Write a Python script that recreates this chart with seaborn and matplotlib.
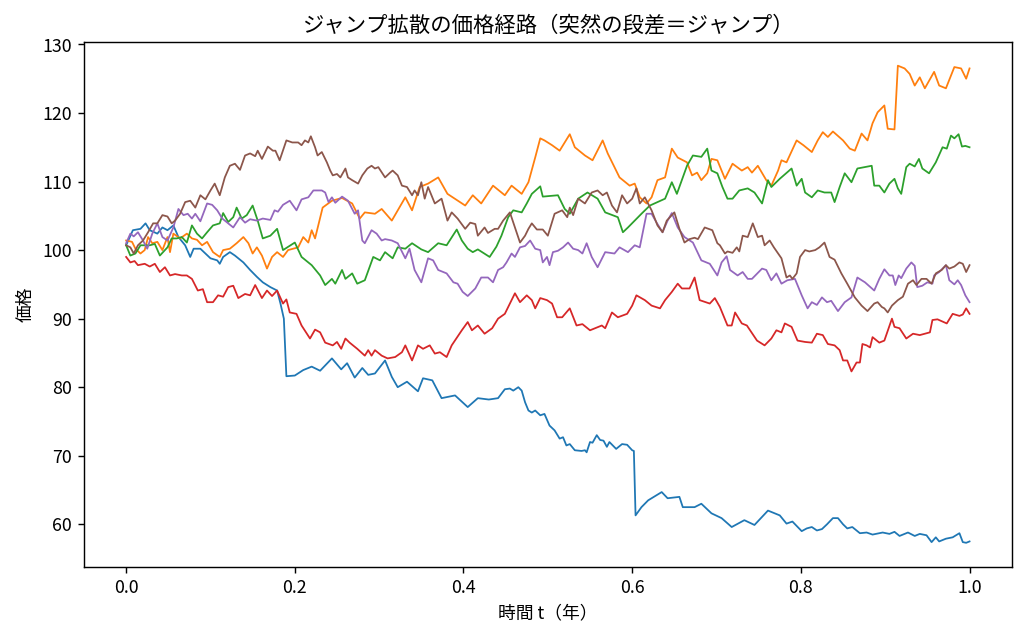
import pandas as pd
import matplotlib
matplotlib.use('Agg')
import matplotlib.pyplot as plt
import seaborn as sns

plt.rcParams['font.family'] = ['Noto Sans CJK JP', 'DejaVu Sans']

# (t, price), one list per path
path_1 = [(0.0, 100.7), (0.008, 102.9), (0.017, 103.1), (0.023, 103.9), (0.028, 102.9), (0.037, 102.4),
          (0.043, 103.3), (0.049, 102.9), (0.056, 103.6), (0.062, 101.9), (0.07, 100.7), (0.076, 99.0),
          (0.08, 100.2), (0.088, 100.2), (0.094, 99.5), (0.1, 98.8), (0.108, 98.5), (0.111, 98.0),
          (0.115, 99.0), (0.123, 99.7), (0.129, 99.2), (0.139, 98.2), (0.147, 97.1), (0.155, 96.1),
          (0.162, 95.3), (0.171, 94.6), (0.179, 94.1), (0.183, 92.2), (0.187, 90.0), (0.19, 81.6),
          (0.2, 81.7), (0.21, 82.5), (0.22, 83.0), (0.23, 82.4), (0.244, 84.2), (0.255, 82.6),
          (0.262, 83.5), (0.271, 81.4), (0.28, 82.8), (0.287, 81.8), (0.295, 82.0), (0.307, 83.9),
          (0.315, 81.5), (0.322, 80.0), (0.333, 80.8), (0.346, 79.4), (0.352, 81.3), (0.363, 81.0),
          (0.374, 78.4), (0.39, 78.8), (0.405, 77.1), (0.417, 78.4), (0.43, 78.2), (0.441, 78.4),
          (0.449, 79.7), (0.455, 79.8), (0.459, 79.5), (0.465, 80.0), (0.469, 79.5), (0.473, 77.8),
          (0.477, 76.6), (0.481, 76.3), (0.485, 76.6), (0.491, 75.9), (0.496, 76.1), (0.502, 74.4),
          (0.508, 73.7), (0.514, 72.5), (0.518, 72.7), (0.522, 71.5), (0.526, 71.7), (0.532, 70.8),
          (0.54, 70.7), (0.544, 70.8), (0.546, 70.5), (0.55, 72.0), (0.553, 71.9), (0.558, 73.0),
          (0.562, 72.3), (0.566, 72.2), (0.57, 71.3), (0.573, 72.0), (0.581, 71.0), (0.588, 71.7),
          (0.594, 71.6), (0.6, 70.8), (0.602, 70.7), (0.604, 61.3), (0.611, 62.5), (0.619, 63.5),
          (0.635, 64.7), (0.642, 63.8), (0.656, 64.0), (0.66, 62.5), (0.674, 62.5), (0.682, 63.0),
          (0.694, 61.6), (0.706, 60.9), (0.718, 59.6), (0.733, 60.6), (0.745, 59.9), (0.761, 62.0),
          (0.775, 61.3), (0.783, 60.1), (0.79, 60.4), (0.801, 59.0), (0.807, 59.4), (0.813, 59.6),
          (0.819, 59.1), (0.825, 59.3), (0.831, 60.0), (0.838, 60.9), (0.844, 60.9), (0.85, 60.0),
          (0.855, 59.4), (0.861, 59.6), (0.87, 58.7), (0.878, 58.8), (0.885, 58.5), (0.897, 58.8),
          (0.905, 58.6), (0.911, 58.9), (0.917, 58.3), (0.927, 58.8), (0.935, 58.3), (0.941, 58.6),
          (0.949, 58.4), (0.955, 57.4), (0.96, 58.1), (0.964, 57.5), (0.972, 57.9), (0.98, 58.1),
          (0.988, 58.7), (0.992, 57.4), (0.996, 57.3), (1.0, 57.5)]

path_2 = [(0.0, 101.4), (0.007, 101.2), (0.011, 100.2), (0.017, 99.5), (0.022, 100.0), (0.026, 101.9),
          (0.031, 101.0), (0.037, 101.2), (0.043, 100.0), (0.049, 101.9), (0.052, 99.7), (0.056, 102.4),
          (0.064, 101.7), (0.072, 102.4), (0.078, 101.7), (0.084, 101.5), (0.09, 100.7), (0.096, 101.2),
          (0.103, 99.7), (0.111, 99.0), (0.115, 100.0), (0.123, 100.2), (0.131, 101.0), (0.139, 101.9),
          (0.145, 101.0), (0.15, 99.5), (0.155, 100.4), (0.161, 99.2), (0.167, 97.3), (0.173, 99.0),
          (0.179, 99.7), (0.186, 99.0), (0.192, 100.0), (0.204, 100.4), (0.21, 101.9), (0.216, 101.1),
          (0.22, 102.9), (0.224, 101.7), (0.233, 106.2), (0.244, 107.2), (0.256, 107.6), (0.268, 106.8),
          (0.277, 104.6), (0.283, 105.5), (0.295, 105.3), (0.303, 106.0), (0.315, 104.3), (0.331, 107.7),
          (0.339, 105.8), (0.348, 109.2), (0.358, 109.7), (0.37, 110.6), (0.381, 108.2), (0.402, 106.5),
          (0.411, 108.0), (0.421, 106.8), (0.435, 109.4), (0.449, 108.0), (0.457, 109.4), (0.469, 108.2),
          (0.477, 109.9), (0.485, 113.5), (0.491, 116.3), (0.496, 116.0), (0.505, 115.3), (0.514, 114.5),
          (0.526, 116.9), (0.532, 115.0), (0.544, 113.8), (0.553, 113.1), (0.565, 116.0), (0.571, 114.1),
          (0.585, 110.6), (0.597, 109.4), (0.603, 109.7), (0.609, 107.7), (0.617, 106.8), (0.623, 107.7),
          (0.63, 110.2), (0.639, 110.6), (0.647, 114.8), (0.654, 113.5), (0.665, 112.8), (0.671, 110.9),
          (0.677, 111.3), (0.682, 110.2), (0.689, 111.2), (0.694, 113.3), (0.701, 113.1), (0.71, 110.4),
          (0.719, 112.6), (0.73, 111.6), (0.737, 112.1), (0.742, 111.3), (0.749, 112.3), (0.759, 110.2),
          (0.765, 109.4), (0.773, 111.6), (0.777, 113.1), (0.783, 112.8), (0.795, 116.0), (0.803, 115.3),
          (0.813, 114.3), (0.82, 116.0), (0.826, 117.2), (0.832, 116.5), (0.838, 117.3), (0.85, 116.0),
          (0.858, 114.8), (0.864, 114.5), (0.872, 117.0), (0.879, 116.0), (0.885, 118.5), (0.891, 120.1),
          (0.899, 121.1), (0.903, 117.7), (0.911, 117.6), (0.915, 126.9), (0.923, 126.5), (0.929, 125.7),
          (0.935, 124.0), (0.941, 125.2), (0.947, 123.6), (0.958, 126.0), (0.964, 124.0), (0.972, 123.6),
          (0.982, 126.7), (0.99, 126.5), (0.996, 125.0), (1.0, 126.5)]

path_3 = [(0.0, 100.7), (0.005, 99.2), (0.011, 99.5), (0.017, 100.7), (0.028, 100.7), (0.034, 100.9),
          (0.04, 99.2), (0.049, 100.4), (0.054, 101.7), (0.06, 101.7), (0.066, 101.9), (0.072, 101.1),
          (0.078, 103.6), (0.084, 102.4), (0.09, 101.7), (0.096, 102.6), (0.103, 103.6), (0.111, 103.9),
          (0.115, 105.4), (0.121, 104.1), (0.127, 104.8), (0.131, 106.2), (0.137, 104.6), (0.143, 105.1),
          (0.15, 106.5), (0.156, 104.3), (0.162, 101.7), (0.171, 102.1), (0.179, 103.1), (0.186, 100.0),
          (0.2, 101.1), (0.208, 99.0), (0.22, 97.8), (0.23, 96.3), (0.236, 94.9), (0.244, 95.8),
          (0.248, 95.1), (0.256, 97.1), (0.26, 95.8), (0.268, 96.6), (0.274, 95.1), (0.283, 95.6),
          (0.293, 99.0), (0.301, 98.5), (0.307, 99.7), (0.316, 98.8), (0.322, 100.4), (0.331, 100.2),
          (0.339, 101.0), (0.35, 100.1), (0.358, 99.7), (0.37, 101.0), (0.38, 100.7), (0.392, 103.0),
          (0.398, 101.4), (0.405, 100.2), (0.411, 99.7), (0.417, 100.1), (0.431, 99.0), (0.439, 100.5),
          (0.445, 102.1), (0.453, 104.8), (0.459, 105.8), (0.469, 105.5), (0.475, 106.8), (0.481, 108.2),
          (0.491, 109.3), (0.494, 107.8), (0.512, 108.0), (0.52, 106.0), (0.526, 105.3), (0.536, 107.5),
          (0.547, 108.4), (0.559, 107.5), (0.568, 105.5), (0.583, 104.8), (0.589, 102.6), (0.595, 103.3),
          (0.603, 104.3), (0.611, 105.3), (0.621, 106.5), (0.639, 107.5), (0.647, 109.9), (0.653, 108.2),
          (0.665, 112.3), (0.672, 113.8), (0.682, 113.6), (0.689, 114.8), (0.694, 111.6), (0.701, 111.2),
          (0.707, 109.2), (0.713, 107.5), (0.719, 107.5), (0.727, 108.7), (0.737, 109.0), (0.745, 108.4),
          (0.754, 106.8), (0.761, 110.2), (0.765, 109.2), (0.775, 110.4), (0.789, 111.9), (0.795, 109.4),
          (0.801, 110.4), (0.805, 108.4), (0.813, 107.7), (0.82, 108.7), (0.828, 108.4), (0.836, 108.4),
          (0.84, 107.0), (0.846, 109.2), (0.852, 111.2), (0.86, 109.9), (0.867, 111.9), (0.884, 112.3),
          (0.887, 109.4), (0.893, 109.4), (0.899, 108.4), (0.905, 109.7), (0.911, 110.4), (0.915, 109.0),
          (0.919, 108.2), (0.925, 112.1), (0.929, 112.6), (0.935, 112.2), (0.94, 113.3), (0.944, 111.9),
          (0.952, 111.2), (0.96, 112.8), (0.968, 115.0), (0.973, 114.8), (0.978, 116.7), (0.982, 116.3),
          (0.987, 116.9), (0.991, 115.1), (0.995, 115.2), (1.0, 115.0)]

path_4 = [(0.0, 99.0), (0.005, 98.2), (0.01, 98.4), (0.014, 97.8), (0.022, 98.0), (0.028, 97.6),
          (0.034, 98.0), (0.04, 96.8), (0.046, 97.5), (0.052, 96.3), (0.058, 96.5), (0.066, 96.3),
          (0.072, 96.3), (0.078, 95.8), (0.085, 94.1), (0.091, 94.3), (0.096, 92.4), (0.103, 92.4),
          (0.109, 93.4), (0.115, 93.2), (0.121, 94.6), (0.127, 94.8), (0.133, 93.0), (0.141, 93.6),
          (0.147, 93.4), (0.153, 94.9), (0.161, 93.0), (0.167, 94.1), (0.173, 93.3), (0.179, 94.1),
          (0.186, 92.2), (0.19, 92.8), (0.194, 90.9), (0.202, 90.7), (0.208, 89.0), (0.218, 87.1),
          (0.224, 88.4), (0.23, 88.0), (0.236, 86.5), (0.245, 86.1), (0.25, 86.6), (0.255, 85.6),
          (0.26, 87.1), (0.265, 86.5), (0.274, 85.6), (0.283, 84.6), (0.287, 85.4), (0.291, 84.6),
          (0.295, 85.4), (0.303, 84.6), (0.31, 84.2), (0.319, 84.4), (0.327, 85.1), (0.331, 86.1),
          (0.339, 83.9), (0.346, 86.1), (0.352, 85.6), (0.36, 86.1), (0.366, 84.9), (0.372, 85.1),
          (0.38, 84.4), (0.386, 86.1), (0.398, 88.3), (0.405, 89.5), (0.41, 88.3), (0.417, 89.0),
          (0.425, 87.8), (0.434, 88.6), (0.441, 90.0), (0.449, 90.7), (0.455, 92.2), (0.461, 93.7),
          (0.467, 92.4), (0.475, 93.4), (0.481, 92.7), (0.485, 91.5), (0.491, 93.0), (0.499, 92.7),
          (0.505, 92.2), (0.511, 90.2), (0.517, 90.2), (0.526, 91.5), (0.534, 89.0), (0.541, 89.2),
          (0.55, 88.3), (0.556, 88.6), (0.564, 89.0), (0.568, 88.6), (0.576, 90.9), (0.583, 90.2),
          (0.594, 90.7), (0.6, 91.9), (0.605, 93.4), (0.615, 92.7), (0.623, 91.9), (0.633, 91.5),
          (0.639, 92.7), (0.647, 93.9), (0.654, 95.1), (0.659, 94.4), (0.668, 94.4), (0.674, 96.0),
          (0.68, 92.7), (0.692, 92.2), (0.698, 93.0), (0.704, 91.7), (0.713, 89.0), (0.718, 89.0),
          (0.722, 90.9), (0.73, 89.3), (0.736, 89.0), (0.748, 86.8), (0.757, 86.1), (0.765, 87.1),
          (0.771, 88.3), (0.777, 88.0), (0.781, 89.3), (0.789, 88.8), (0.796, 86.8), (0.805, 86.6),
          (0.813, 86.5), (0.819, 87.8), (0.826, 87.6), (0.832, 86.3), (0.84, 86.1), (0.846, 85.4),
          (0.85, 83.9), (0.855, 83.9), (0.86, 82.3), (0.866, 83.6), (0.87, 83.6), (0.873, 86.3),
          (0.878, 86.1), (0.882, 85.8), (0.885, 87.3), (0.893, 86.5), (0.899, 86.8), (0.908, 90.0),
          (0.911, 88.8), (0.917, 88.6), (0.925, 87.1), (0.933, 87.8), (0.941, 87.6), (0.947, 87.8),
          (0.953, 88.0), (0.956, 89.8), (0.962, 89.9), (0.973, 89.3), (0.98, 90.7), (0.988, 90.4),
          (0.992, 90.6), (0.996, 91.5), (1.0, 90.7)]

path_5 = [(0.0, 101.0), (0.005, 102.4), (0.009, 102.0), (0.014, 102.6), (0.02, 101.4), (0.025, 100.2),
          (0.031, 102.4), (0.037, 103.9), (0.043, 101.9), (0.049, 101.4), (0.056, 103.3), (0.062, 106.0),
          (0.068, 105.1), (0.073, 105.3), (0.078, 104.6), (0.082, 105.3), (0.088, 104.2), (0.096, 106.8),
          (0.102, 106.6), (0.108, 105.8), (0.114, 104.6), (0.121, 103.9), (0.127, 103.3), (0.135, 104.8),
          (0.141, 104.0), (0.147, 104.5), (0.155, 104.3), (0.162, 104.6), (0.171, 104.4), (0.176, 105.8),
          (0.18, 105.6), (0.186, 106.6), (0.194, 107.2), (0.202, 105.8), (0.208, 107.4), (0.216, 107.7),
          (0.222, 108.7), (0.232, 108.7), (0.236, 108.4), (0.24, 107.0), (0.244, 107.7), (0.248, 106.9),
          (0.256, 107.8), (0.263, 107.2), (0.271, 105.3), (0.275, 105.8), (0.28, 101.4), (0.283, 101.0),
          (0.291, 102.9), (0.297, 102.4), (0.303, 101.4), (0.307, 101.6), (0.315, 101.4), (0.322, 101.0),
          (0.331, 98.8), (0.336, 100.2), (0.342, 97.1), (0.35, 95.3), (0.358, 98.8), (0.364, 98.5),
          (0.37, 97.1), (0.38, 96.6), (0.388, 95.3), (0.393, 95.1), (0.399, 93.9), (0.405, 93.3),
          (0.414, 94.4), (0.421, 96.0), (0.429, 96.0), (0.435, 95.3), (0.441, 97.1), (0.447, 97.5),
          (0.451, 98.2), (0.457, 99.5), (0.461, 99.0), (0.467, 100.4), (0.473, 100.6), (0.479, 101.4),
          (0.485, 100.2), (0.491, 100.0), (0.494, 98.2), (0.499, 99.0), (0.502, 97.8), (0.506, 99.7),
          (0.512, 99.9), (0.518, 100.4), (0.524, 101.1), (0.53, 100.2), (0.536, 100.0), (0.541, 99.5),
          (0.546, 101.0), (0.552, 99.0), (0.559, 97.5), (0.568, 99.7), (0.579, 99.5), (0.585, 100.4),
          (0.595, 99.7), (0.603, 100.7), (0.609, 100.4), (0.617, 105.3), (0.623, 105.3), (0.629, 104.0),
          (0.636, 102.6), (0.642, 104.3), (0.647, 105.4), (0.654, 103.3), (0.662, 101.9), (0.672, 101.1),
          (0.682, 98.5), (0.692, 98.0), (0.701, 96.3), (0.706, 98.2), (0.712, 99.1), (0.716, 97.1),
          (0.725, 96.3), (0.731, 96.8), (0.737, 95.8), (0.742, 95.8), (0.754, 97.3), (0.759, 97.1),
          (0.765, 95.6), (0.771, 96.6), (0.777, 95.1), (0.784, 95.6), (0.793, 95.8), (0.801, 93.4),
          (0.808, 91.5), (0.813, 92.4), (0.819, 92.0), (0.825, 93.1), (0.831, 92.4), (0.836, 92.6),
          (0.844, 91.1), (0.852, 92.4), (0.86, 93.1), (0.867, 96.0), (0.876, 95.3), (0.887, 94.1),
          (0.893, 95.8), (0.899, 97.2), (0.905, 96.3), (0.909, 96.3), (0.912, 94.9), (0.916, 96.3),
          (0.919, 95.9), (0.925, 97.3), (0.931, 98.2), (0.935, 97.7), (0.938, 94.6), (0.944, 94.8),
          (0.95, 95.3), (0.956, 95.1), (0.958, 96.3), (0.964, 96.8), (0.972, 97.8), (0.976, 95.6),
          (0.982, 95.0), (0.986, 95.6), (0.99, 94.9), (0.995, 93.4), (1.0, 92.4)]

path_6 = [(0.0, 100.7), (0.005, 100.4), (0.009, 99.5), (0.014, 100.7), (0.02, 101.4), (0.026, 102.6),
          (0.032, 103.9), (0.037, 103.9), (0.043, 105.1), (0.049, 104.9), (0.054, 103.9), (0.058, 104.3),
          (0.064, 105.3), (0.07, 107.0), (0.076, 107.2), (0.082, 106.2), (0.088, 108.0), (0.094, 107.4),
          (0.1, 108.7), (0.105, 109.7), (0.111, 108.0), (0.117, 110.6), (0.123, 112.3), (0.129, 112.6),
          (0.135, 111.7), (0.141, 113.8), (0.147, 114.1), (0.153, 113.7), (0.156, 114.5), (0.161, 113.3),
          (0.168, 115.1), (0.174, 114.5), (0.177, 114.5), (0.182, 113.1), (0.19, 116.0), (0.197, 115.7),
          (0.204, 115.7), (0.208, 115.3), (0.212, 116.0), (0.216, 115.7), (0.219, 116.6), (0.224, 115.0),
          (0.227, 113.8), (0.232, 114.3), (0.238, 112.8), (0.242, 111.6), (0.245, 110.9), (0.25, 111.1),
          (0.254, 110.6), (0.26, 111.9), (0.263, 110.6), (0.268, 110.2), (0.275, 109.7), (0.28, 110.9),
          (0.286, 111.9), (0.291, 112.3), (0.295, 111.9), (0.299, 112.1), (0.307, 110.6), (0.313, 111.3),
          (0.316, 111.6), (0.322, 110.9), (0.327, 109.4), (0.333, 109.2), (0.339, 108.0), (0.342, 108.7),
          (0.346, 108.0), (0.35, 109.9), (0.354, 107.5), (0.358, 109.2), (0.366, 106.8), (0.374, 107.5),
          (0.381, 104.3), (0.386, 105.5), (0.393, 104.6), (0.402, 103.1), (0.408, 104.0), (0.414, 103.8),
          (0.417, 102.1), (0.425, 103.3), (0.429, 102.5), (0.437, 103.1), (0.441, 103.1), (0.447, 104.3),
          (0.455, 105.5), (0.461, 103.3), (0.467, 101.1), (0.473, 102.1), (0.477, 103.1), (0.481, 103.9),
          (0.487, 103.0), (0.494, 103.0), (0.5, 102.1), (0.508, 105.3), (0.517, 105.8), (0.523, 104.8),
          (0.526, 106.2), (0.53, 105.1), (0.536, 107.5), (0.544, 106.8), (0.552, 108.4), (0.559, 108.7),
          (0.565, 108.0), (0.57, 108.4), (0.576, 106.5), (0.582, 105.5), (0.588, 108.0), (0.594, 106.8),
          (0.6, 107.5), (0.605, 109.0), (0.609, 106.8), (0.615, 107.7), (0.623, 105.8), (0.63, 103.6),
          (0.636, 102.6), (0.641, 104.3), (0.647, 105.1), (0.65, 105.5), (0.656, 103.1), (0.662, 101.1),
          (0.668, 101.6), (0.674, 101.8), (0.678, 101.6), (0.686, 103.3), (0.695, 102.9), (0.701, 101.0),
          (0.704, 100.7), (0.71, 99.5), (0.713, 99.8), (0.719, 99.6), (0.724, 100.4), (0.727, 99.8),
          (0.731, 102.1), (0.737, 101.9), (0.743, 103.9), (0.749, 101.9), (0.754, 102.1), (0.757, 100.7),
          (0.763, 101.4), (0.768, 100.4), (0.777, 98.8), (0.783, 96.0), (0.787, 96.3), (0.79, 95.8),
          (0.795, 96.6), (0.799, 99.0), (0.805, 100.0), (0.81, 99.8), (0.817, 100.0), (0.822, 100.4),
          (0.828, 101.1), (0.834, 99.0), (0.84, 98.6), (0.848, 96.6), (0.855, 95.1), (0.864, 93.1),
          (0.872, 91.9), (0.879, 91.1), (0.887, 92.2), (0.891, 92.4), (0.896, 91.7), (0.899, 91.5),
          (0.903, 90.9), (0.908, 91.9), (0.915, 92.7), (0.921, 93.2), (0.927, 95.1), (0.933, 95.6),
          (0.937, 94.9), (0.943, 95.8), (0.949, 95.8), (0.955, 95.1), (0.96, 96.6), (0.967, 97.1),
          (0.972, 97.8), (0.976, 97.3), (0.982, 97.6), (0.988, 98.2), (0.992, 98.0), (0.996, 96.8),
          (1.0, 97.8)]

paths = [path_1, path_2, path_3, path_4, path_5, path_6]

frames = []
for i, p in enumerate(paths):
    d = pd.DataFrame(p, columns=['t', 'price'])
    d['path'] = i
    frames.append(d)
df = pd.concat(frames, ignore_index=True)

fig, ax = plt.subplots(figsize=(8, 4.97), dpi=128)
sns.lineplot(data=df, x='t', y='price', hue='path', palette=sns.color_palette('tab10', 6),
             estimator=None, sort=False, linewidth=1.0, legend=False, ax=ax)

ax.set_title('ジャンプ拡散の価格経路（突然の段差＝ジャンプ）', fontsize=12)
ax.set_xlabel('時間 t（年）')
ax.set_ylabel('価格')
plt.subplots_adjust(left=0.082, right=0.988, top=0.934, bottom=0.109)
plt.savefig('out.png', dpi=128)
